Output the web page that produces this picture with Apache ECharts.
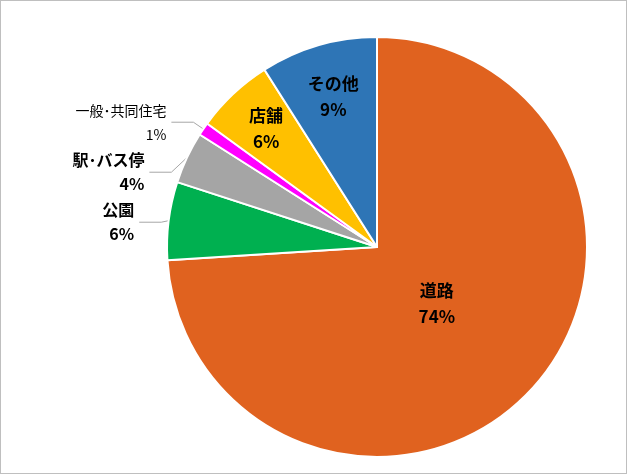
<!DOCTYPE html>
<html><head><meta charset="utf-8">
<script src="https://cdn.jsdelivr.net/npm/echarts@6/dist/echarts.min.js"></script>
<style>html,body{margin:0;padding:0;background:#fff}#c{width:625px;height:472px;border:1px solid #bfbfbf}</style>
</head><body><div id="c"></div>
<script>
var categories = ['道路', '公園', '駅･バス停', '一般･共同住宅', '店舗', 'その他'];
var values = [74, 6, 4, 1, 6, 9];
var colors = ['#E0621F', '#00B050', '#A5A5A5', '#FF00FF', '#FFC000', '#2E75B6'];
var inside = [true, false, false, false, true, true];
// radial shift for inside labels
var shift = [0.76, 1, 1, 1, 1.5, 1.45];
var cx = 376, cy = 246;

var chart = echarts.init(document.getElementById('c'));
var data = categories.map(function (n, i) {
    var d = { name: n, value: values[i], itemStyle: { color: colors[i] } };
    if (inside[i]) {
        d.label = { position: 'inside' };
    } else {
        d.label = { position: 'outside', fontWeight: i == 3 ? 'normal' : 'bold', fontSize: i == 3 ? 14 : 16, lineHeight: 24 };
        d.labelLine = { show: true, length: 12, length2: 22, lineStyle: { color: '#a6a6a6', width: 1 } };
    }
    return d;
});
chart.setOption({
    animation: false,
    series: [{
        type: 'pie',
        center: [cx, cy],
        radius: 210,
        startAngle: 90,
        clockwise: true,
        itemStyle: { borderColor: '#fff', borderWidth: 2 },
        label: {
            formatter: '{b}\n{c}%',
            color: '#000',
            fontFamily: 'Noto Sans CJK JP',
            fontWeight: 'bold',
            fontSize: 17,
            lineHeight: 26,
            align: 'center'
        },
        labelLayout: function (p) {
            var i = p.dataIndex;
            if (!inside[i]) return {};
            var r = p.labelRect;
            var mx = r.x + r.width / 2, my = r.y + r.height / 2;
            var nx = cx + (mx - cx) * shift[i], ny = cy + (my - cy) * shift[i];
            return { x: nx, y: ny, align: 'center', verticalAlign: 'middle' };
        },
        data: data
    }]
});
</script></body></html>
